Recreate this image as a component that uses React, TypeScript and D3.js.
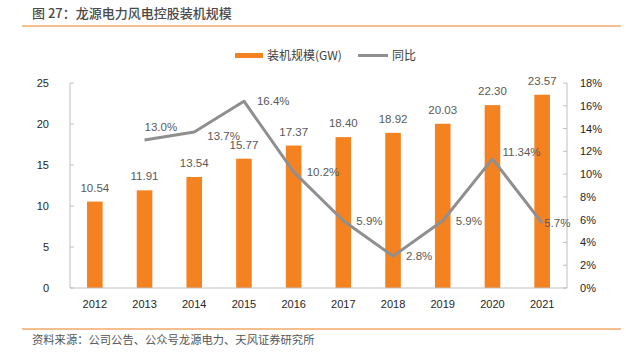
import React from "react";
import * as d3 from "d3";

const years = ["2012", "2013", "2014", "2015", "2016", "2017", "2018", "2019", "2020", "2021"];
const capacity = [10.54, 11.91, 13.54, 15.77, 17.37, 18.4, 18.92, 20.03, 22.3, 23.57];
const capacityLabels = ["10.54", "11.91", "13.54", "15.77", "17.37", "18.40", "18.92", "20.03", "22.30", "23.57"];
const yoy: (number | null)[] = [null, 13.0, 13.7, 16.4, 10.2, 5.9, 2.8, 5.9, 11.34, 5.7];
const yoyLabels = ["", "13.0%", "13.7%", "16.4%", "10.2%", "5.9%", "2.8%", "5.9%", "11.34%", "5.7%"];
const leftTicks = [0, 5, 10, 15, 20, 25];
const rightTicks = [0, 2, 4, 6, 8, 10, 12, 14, 16, 18];

const W = 626;
const H = 356;
const M = { left: 70, right: 567, top: 83, bottom: 288 };
const ORANGE = "#F58220";
const GRAY = "#8F8F8F";
const AXIS = "#BFBFBF";
const NUM_FONT = "'Liberation Sans', Arial, sans-serif";
const CJK_FONT = "'Noto Sans CJK SC', 'Noto Sans', sans-serif";

export default function App() {
  const x = d3.scaleBand<string>().domain(years).range([M.left, M.right]).paddingInner(0).paddingOuter(0);
  const yL = d3.scaleLinear().domain([0, 25]).range([M.bottom, M.top]);
  const yR = d3.scaleLinear().domain([0, 18]).range([M.bottom, M.top]);
  const bw = 15.6;
  const cx = (y: string) => (x(y) as number) + x.bandwidth() / 2;

  const pts = years
    .map((yr, i) => ({ yr, v: yoy[i], i }))
    .filter((d) => d.v !== null) as { yr: string; v: number; i: number }[];
  const line = d3
    .line<{ yr: string; v: number }>()
    .x((d) => cx(d.yr))
    .y((d) => yR(d.v));

  const labelPos = (i: number, px: number, py: number) => {
    if (i === 1) return { x: px, y: py - 13, anchor: "start" };
    if (i === 2) return { x: px + 13, y: py + 4, anchor: "start" };
    if (i === 8) return { x: px + 10, y: py - 7, anchor: "start" };
    if (i === 9) return { x: px + 2, y: py, anchor: "start" };
    return { x: px + 13, y: py, anchor: "start" };
  };

  return (
    <svg width={W} height={H} style={{ display: "block", position: "absolute", left: 0, top: 0, background: "#fff" }}>
      {/* header */}
      <text x={32} y={18} fontFamily={CJK_FONT} fontSize={13} fontWeight={500} fill="#4a4a4a">
        图 27：龙源电力风电控股装机规模
      </text>
      <line x1={22} x2={621} y1={26} y2={26} stroke="#F2A866" strokeWidth={1.5} />

      {/* legend */}
      <rect x={235} y={53} width={28} height={5} fill={ORANGE} />
      <text x={267} y={60} fontFamily={CJK_FONT} fontSize={12} fill="#404040">装机规模(GW)</text>
      <line x1={358} x2={388} y1={55.5} y2={55.5} stroke={GRAY} strokeWidth={3} />
      <text x={392} y={60} fontFamily={CJK_FONT} fontSize={12} fill="#404040">同比</text>

      {/* bars */}
      {years.map((yr, i) => (
        <rect key={yr} x={cx(yr) - bw / 2} y={yL(capacity[i])} width={bw} height={M.bottom - yL(capacity[i])} fill={ORANGE} />
      ))}

      {/* axes */}
      <line x1={M.left} x2={M.left} y1={M.top} y2={M.bottom} stroke={AXIS} />
      <line x1={M.right} x2={M.right} y1={M.top} y2={M.bottom} stroke={AXIS} />
      <line x1={M.left} x2={M.right} y1={M.bottom} y2={M.bottom} stroke={AXIS} />
      {leftTicks.map((t) => (
        <g key={"l" + t}>
          <line x1={M.left} x2={M.left + 4} y1={yL(t)} y2={yL(t)} stroke={AXIS} />
          <text x={49} y={yL(t) + 4} textAnchor="end" fontFamily={NUM_FONT} fontSize={11} fill="#262626">{t}</text>
        </g>
      ))}
      {rightTicks.map((t) => (
        <g key={"r" + t}>
          <line x1={M.right - 4} x2={M.right} y1={yR(t)} y2={yR(t)} stroke={AXIS} />
          <text x={580} y={yR(t) + 4} textAnchor="start" fontFamily={NUM_FONT} fontSize={11} fill="#262626">{t}%</text>
        </g>
      ))}
      {years.map((yr) => (
        <text key={"x" + yr} x={cx(yr)} y={308} textAnchor="middle" fontFamily={NUM_FONT} fontSize={11} fill="#262626">{yr}</text>
      ))}

      {/* bar labels */}
      {years.map((yr, i) => (
        <text key={"bl" + yr} x={cx(yr)} y={yL(capacity[i]) - 10} textAnchor="middle" fontFamily={NUM_FONT} fontSize={11.5} fill="#595959">
          {capacityLabels[i]}
        </text>
      ))}

      {/* line */}
      <path d={line(pts) || ""} fill="none" stroke={GRAY} strokeWidth={3} strokeLinejoin="round" />
      {pts.map((d) => {
        const p = labelPos(d.i, cx(d.yr), yR(d.v));
        return (
          <text key={"ll" + d.yr} x={p.x} y={p.y + 4} textAnchor={p.anchor as any} fontFamily={NUM_FONT} fontSize={11.5} fill="#595959">
            {yoyLabels[d.i]}
          </text>
        );
      })}

      {/* footer */}
      <line x1={22} x2={621} y1={329} y2={329} stroke="#F2A866" strokeWidth={1.5} />
      <text x={32} y={344} fontFamily={CJK_FONT} fontSize={11.3} fill="#555">
        资料来源：公司公告、公众号龙源电力、天风证券研究所
      </text>
    </svg>
  );
}
